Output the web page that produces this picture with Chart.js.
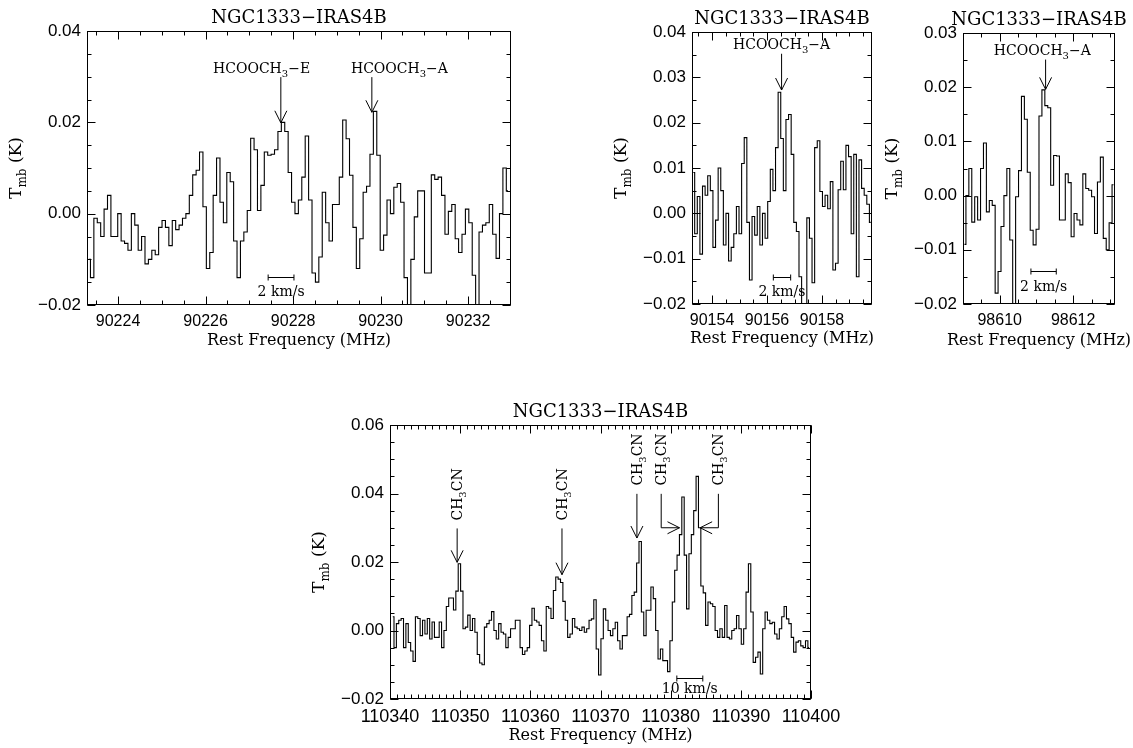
<!DOCTYPE html>
<html>
<head>
<meta charset="utf-8">
<title>NGC1333-IRAS4B spectra</title>
<script src="https://cdn.jsdelivr.net/npm/chart.js@4.4.1/dist/chart.umd.min.js"></script>
<style>
  html, body { margin: 0; padding: 0; background: #fff; }
  #page { position: relative; width: 1133px; height: 748px; overflow: hidden; background: #fff; }
  #page canvas { position: absolute; }
</style>
</head>
<body>
<div id="page">
  <canvas id="p1" width="540" height="360" style="left:0px;top:0px"></canvas>
  <canvas id="p2" width="285" height="360" style="left:600px;top:0px"></canvas>
  <canvas id="p3" width="248" height="360" style="left:885px;top:0px"></canvas>
  <canvas id="p4" width="560" height="358" style="left:300px;top:390px"></canvas>
</div>
<script>
// source name shown above every panel
const sourceName = 'NGC1333−IRAS4B';
const xAxisTitle = 'Rest Frequency (MHz)';
const yAxisTitle = 'T_{mb} (K)';

// HCOOCH3 E/A near 90.23 GHz: channel centres start at p1Start, spaced p1Step (MHz)
const p1Start = 90223.33;
const p1Step = 0.0779;
const p1Values = [
  -0.010, -0.014, -0.001, -0.002, -0.005, 0.001, 0.004, -0.005, -0.005, 0.000,
  -0.006, -0.0065, -0.008, 0.000, -0.0025, -0.008, -0.005, -0.011, -0.010, -0.008,
  -0.009, -0.003, -0.0015, -0.003, -0.007, -0.0015, -0.0035, -0.0025, -0.001, 0.000,
  0.004, 0.0085, 0.0095, 0.0135, 0.0015, -0.012, -0.0085, 0.004, 0.0122, 0.0025,
  -0.002, 0.009, 0.007, -0.006, -0.014, -0.006, -0.004, 0.0007, 0.0165, 0.014,
  0.0007, 0.0062, 0.0135, 0.0128, 0.013, 0.014, 0.018, 0.020, 0.018, 0.009,
  0.0025, 0.000, 0.003, 0.008, 0.017, 0.003, -0.013, -0.015, -0.0095, 0.0047,
  -0.002, -0.006, 0.002, 0.002, 0.008, 0.0205, 0.0164, 0.0084, -0.003, -0.012,
  -0.0055, 0.0047, 0.006, 0.013, 0.0224, 0.0128, -0.008, -0.0047, 0.003, 0.000,
  0.0058, 0.0066, 0.0025, -0.014, -0.025, -0.010, -0.0007, 0.005, 0.005, -0.013,
  -0.013, 0.0085, 0.0075, 0.008, 0.004, -0.0045, 0.0005, 0.002, -0.0055, -0.0085,
  -0.0045, 0.001, -0.002, -0.0135, -0.025, -0.004, -0.0025, -0.002, 0.002, -0.0045,
  -0.0098, 0.000, 0.010, 0.005
];

// HCOOCH3-A near 90.156 GHz
const p2Start = 90153.32;
const p2Step = 0.0949;
const p2Values = [
  0.009, -0.0045, 0.0037, -0.009, 0.006, 0.004, 0.0083, 0.005, -0.0075, -0.0015,
  0.010, 0.005, -0.007, 0.000, -0.0105, -0.0075, -0.0045, 0.0015, -0.0045, 0.011,
  0.0167, -0.002, -0.0147, -0.0007, -0.0048, 0.0015, -0.007, 0.000, -0.0055, 0.0026,
  0.0097, 0.005, 0.0145, 0.0267, 0.0165, 0.005, 0.0207, 0.0218, 0.013, -0.002,
  -0.004, -0.014, -0.025, -0.025, -0.001, -0.0055, -0.0153, 0.0145, 0.016, 0.0048,
  0.0015, 0.004, 0.001, 0.007, -0.0125, -0.011, 0.0052, 0.0115, 0.0052, 0.015,
  0.0125, -0.0045, 0.013, -0.014, 0.0118, 0.0055, 0.004, 0.002, -0.002
];

// HCOOCH3-A near 98.611 GHz
const p3Start = 98609.04;
const p3Step = 0.0796;
const p3Values = [
  -0.009, 0.000, 0.005, -0.0049, -0.0002, -0.0045, 0.005, 0.0097, -0.003, -0.0009,
  -0.0018, -0.018, -0.014, -0.0057, 0.000, 0.005, -0.0082, -0.020, -0.0002, 0.0046,
  0.0183, 0.0141, 0.0043, -0.0064, -0.0091, -0.0062, 0.0147, 0.0195, 0.0166, 0.0162,
  0.0019, 0.0074, 0.0073, -0.0045, -0.0045, 0.004, 0.0024, -0.0076, -0.0033, -0.0045,
  -0.0054, 0.004, 0.0013, 0.001, -0.0002, -0.007, 0.0025, 0.0071, -0.0079, -0.010,
  -0.005, 0.002
];

// CH3CN ladder near 110.38 GHz
const p4Start = 110340.4;
const p4Step = 0.339;
const p4Values = [
  0.004, -0.005, 0.002, 0.003, 0.0035, -0.005, 0.002, -0.0035, -0.006, -0.009,
  0.004, 0.0035, -0.0015, 0.003, -0.001, 0.0035, -0.0025, 0.0025, -0.002, -0.002,
  0.0025, -0.005, 0.000, 0.007, 0.0095, 0.0095, 0.006, 0.0115, 0.0195, 0.0115,
  0.0005, 0.001, 0.0045, 0.000, 0.0035, -0.0005, -0.007, -0.0095, -0.010, 0.001,
  0.002, 0.003, 0.0055, 0.000, -0.0025, 0.002, -0.0005, -0.001, -0.005, -0.002,
  0.0005, 0.0005, 0.003, 0.003, -0.005, -0.007, -0.006, -0.005, 0.0015, 0.0065,
  0.003, 0.0025, 0.0015, -0.003, -0.006, 0.007, 0.0065, 0.0035, 0.0117, 0.0156,
  0.015, 0.014, 0.0085, 0.003, -0.002, -0.001, 0.0035, 0.001, 0.0005, 0.000,
  0.001, -0.0005, 0.0005, 0.003, 0.0034, 0.009, -0.0054, -0.013, -0.0024, 0.0063,
  0.003, 0.000, -0.0015, 0.0005, 0.0024, -0.003, -0.0054, -0.0015, -0.0015, 0.004,
  0.0047, 0.0102, 0.0112, 0.0197, 0.026, 0.0054, -0.0015, 0.0059, 0.0059, 0.0127,
  0.0093, 0.000, -0.0083, -0.0054, -0.0088, -0.0088, -0.012, -0.003, 0.0083, 0.0176,
  0.022, 0.028, 0.039, 0.022, 0.0063, 0.0224, 0.028, 0.035, 0.045, 0.030,
  0.013, 0.011, 0.0015, 0.0083, 0.0078, 0.007, 0.000, -0.002, 0.0005, -0.002,
  0.0073, -0.002, -0.0025, 0.000, 0.0005, 0.0044, 0.0005, -0.004, 0.0005, 0.0112,
  0.0195, 0.0054, -0.0093, -0.0078, -0.0063, -0.0127, 0.0005, 0.0054, 0.003, 0.002,
  0.0024, -0.001, -0.0025, 0.0005, 0.004, 0.007, 0.0034, 0.002, -0.002, -0.0063,
  -0.0034, -0.003, -0.0045, -0.005, -0.003, -0.005
];

// line identifications (data coordinates: MHz, K)
const p1Labels = [
  { text: 'HCOOCH_{3}−E', x: 90227.28, y: 0.0309, lineX: 90227.72, from: 0.0299, to: 0.0199 },
  { text: 'HCOOCH_{3}−A', x: 90230.43, y: 0.0309, lineX: 90229.80, from: 0.0299, to: 0.0222 }
];
const p2Labels = [
  { text: 'HCOOCH_{3}−A', x: 90156.53, y: 0.0363, lineX: 90156.53, from: 0.0352, to: 0.0272 }
];
const p3Labels = [
  { text: 'HCOOCH_{3}−A', x: 98611.16, y: 0.0260, lineX: 98611.25, from: 0.0251, to: 0.0196 }
];
const p4Labels = [
  { text: 'CH_{3}CN', x: 110349.57, y: 0.0321, lineX: 110349.57, from: 0.0298, to: 0.0199 },
  { text: 'CH_{3}CN', x: 110364.51, y: 0.0321, lineX: 110364.51, from: 0.0298, to: 0.0163 },
  { text: 'CH_{3}CN', x: 110375.19, y: 0.0423, lineX: 110375.19, from: 0.0399, to: 0.0270 },
  { text: 'CH_{3}CN', x: 110378.65, y: 0.0423, lineX: 110378.65, from: 0.0399, to: 0.0300, tipX: 110381.26 },
  { text: 'CH_{3}CN', x: 110386.70, y: 0.0423, lineX: 110386.80, from: 0.0399, to: 0.0300, tipX: 110384.20 }
];

// velocity scale bars
const p1Bar = { from: 90227.43, to: 90228.02, y: -0.0139, text: '2 km/s' };
const p2Bar = { from: 90156.23, to: 90156.86, y: -0.0141, text: '2 km/s' };
const p3Bar = { from: 98610.85, to: 98611.54, y: -0.0140, text: '2 km/s' };
const p4Bar = { from: 110380.88, to: 110384.58, y: -0.0138, text: '10 km/s' };

Chart.defaults.color = '#000';

// text with _{..} subscripts, drawn left-to-right from x (or centred on x)
function drawRich(ctx, text, x, y, size, align) {
  const big = size + 'px "DejaVu Serif"';
  const small = Math.round(size * 0.68) + 'px "DejaVu Serif"';
  const items = text.split(/(_\{[^}]*\})/).filter(s => s.length).map(p => {
    const sub = p.startsWith('_{');
    const t = sub ? p.slice(2, -1) : p;
    ctx.font = sub ? small : big;
    return { t, sub, w: ctx.measureText(t).width };
  });
  const total = items.reduce((s, it) => s + it.w, 0);
  let cx = align === 'center' ? x - total / 2 : x;
  ctx.textAlign = 'left';
  ctx.textBaseline = 'alphabetic';
  items.forEach(it => {
    ctx.font = it.sub ? small : big;
    ctx.fillText(it.t, cx, it.sub ? y + size * 0.3 : y);
    cx += it.w;
  });
}

function line(ctx, x0, y0, x1, y1) {
  ctx.beginPath();
  ctx.moveTo(x0, y0);
  ctx.lineTo(x1, y1);
  ctx.stroke();
}

// frame, inward ticks on all four sides, titles, labels, arrows and scale bar
function decor(p) {
  return {
    id: 'decor',
    afterDraw(chart) {
      const { ctx, chartArea: a, scales: { x, y } } = chart;
      const L = Math.round(a.left) + 0.5, R = Math.round(a.right) - 0.5;
      const T = Math.round(a.top) + 0.5, B = Math.round(a.bottom) - 0.5;
      ctx.save();
      ctx.strokeStyle = '#000';
      ctx.fillStyle = '#000';
      ctx.lineWidth = 1;
      ctx.strokeRect(L, T, R - L, B - T);

      const xTicks = (step, len) => {
        for (let n = Math.ceil(x.min / step - 1e-9); n * step <= x.max + 1e-9; n++) {
          const px = Math.round(x.getPixelForValue(n * step)) + 0.5;
          line(ctx, px, B, px, B - len);
          line(ctx, px, T, px, T + len);
        }
      };
      const yTicks = (step, len) => {
        for (let n = Math.ceil(y.min / step - 1e-9); n * step <= y.max + 1e-9; n++) {
          const py = Math.round(y.getPixelForValue(n * step)) + 0.5;
          line(ctx, L, py, L + len, py);
          line(ctx, R, py, R - len, py);
        }
      };
      xTicks(p.xMinor, 4);
      xTicks(p.xStep, 8);
      yTicks(p.yMinor, 4);
      yTicks(p.yStep, 8);

      // title
      ctx.font = '18px "DejaVu Serif"';
      ctx.textAlign = 'center';
      ctx.textBaseline = 'alphabetic';
      ctx.fillText(sourceName, (a.left + a.right) / 2, a.top - 8);

      // x axis title (may run wider than the narrow panels)
      drawRich(ctx, xAxisTitle, (a.left + a.right) / 2, a.bottom + p.xTitleDy, 16, 'center');

      // y axis title, rotated
      ctx.save();
      ctx.translate(a.left - 66, (a.top + a.bottom) / 2);
      ctx.rotate(-Math.PI / 2);
      drawRich(ctx, yAxisTitle, 0, 0, 17, 'center');
      ctx.restore();

      // line identifications
      p.labels.forEach(lb => {
        const lx = x.getPixelForValue(lb.lineX);
        const top = y.getPixelForValue(lb.from);
        const tip = y.getPixelForValue(lb.to);
        if (p.vertical) {
          ctx.save();
          ctx.translate(x.getPixelForValue(lb.x) + 5, y.getPixelForValue(lb.y));
          ctx.rotate(-Math.PI / 2);
          drawRich(ctx, lb.text, 0, 0, 14, 'left');
          ctx.restore();
        } else {
          drawRich(ctx, lb.text, x.getPixelForValue(lb.x), y.getPixelForValue(lb.y), 14, 'center');
        }
        if (lb.tipX === undefined) {
          line(ctx, lx, top, lx, tip);
          line(ctx, lx, tip, lx - 6, tip - 12);
          line(ctx, lx, tip, lx + 6, tip - 12);
        } else {
          const tx = x.getPixelForValue(lb.tipX);
          const dir = Math.sign(tx - lx);
          ctx.beginPath();
          ctx.moveTo(lx, top);
          ctx.lineTo(lx, tip);
          ctx.lineTo(tx, tip);
          ctx.stroke();
          line(ctx, tx, tip, tx - dir * 12, tip - 6);
          line(ctx, tx, tip, tx - dir * 12, tip + 6);
        }
      });

      // velocity scale bar
      const b = p.bar;
      const bx0 = x.getPixelForValue(b.from), bx1 = x.getPixelForValue(b.to);
      const by = Math.round(y.getPixelForValue(b.y)) + 0.5;
      line(ctx, bx0, by, bx1, by);
      line(ctx, bx0, by - 3, bx0, by + 3);
      line(ctx, bx1, by - 3, bx1, by + 3);
      ctx.font = '14px "DejaVu Serif"';
      ctx.textAlign = 'center';
      ctx.fillText(b.text, (bx0 + bx1) / 2, by + p.barDy);
      ctx.restore();
    }
  };
}

function makeChart(p) {
  const points = p.values.map((v, i) => ({ x: p.start + i * p.step, y: v }));
  new Chart(document.getElementById(p.id), {
    type: 'line',
    data: {
      datasets: [{
        data: points,
        stepped: 'middle',
        borderColor: '#000',
        borderWidth: 1.1,
        pointRadius: 0,
        fill: false
      }]
    },
    options: {
      responsive: false,
      animation: false,
      devicePixelRatio: 1,
      events: [],
      layout: { padding: { top: p.padTop, right: p.padRight, left: 0, bottom: 0 } },
      plugins: {
        legend: { display: false },
        tooltip: { enabled: false },
        title: { display: false }
      },
      scales: {
        x: {
          type: 'linear',
          min: p.xMin,
          max: p.xMax,
          grid: { display: false, drawTicks: false },
          border: { display: false },
          ticks: {
            stepSize: p.xStep,
            includeBounds: false,
            autoSkip: false,
            maxRotation: 0,
            padding: 7,
            color: '#000',
            font: { family: 'Liberation Sans', size: p.xFont },
            callback: v => String(Math.round(v))
          },
          afterFit: s => { s.height = p.xAxisH; s.paddingLeft = 0; s.paddingRight = 0; }
        },
        y: {
          min: p.yMin,
          max: p.yMax,
          grid: { display: false, drawTicks: false },
          border: { display: false },
          ticks: {
            stepSize: p.yStep,
            padding: 6,
            color: '#000',
            font: { family: 'Liberation Sans', size: 17 },
            callback: v => Math.abs(v) < 1e-9 ? '0.00' : v.toFixed(2).replace('-', '−')
          },
          afterFit: s => { s.width = p.yAxisW; s.paddingTop = 0; s.paddingBottom = 0; }
        }
      }
    },
    plugins: [decor(p)]
  });
}

makeChart({
  id: 'p1', values: p1Values, start: p1Start, step: p1Step,
  xMin: 90223.29, xMax: 90232.98, xStep: 2, xMinor: 0.5,
  yMin: -0.02, yMax: 0.04, yStep: 0.02, yMinor: 0.005,
  padTop: 31, padRight: 29, yAxisW: 87, xAxisH: 55, xFont: 16, xTitleDy: 40,
  labels: p1Labels, bar: p1Bar, barDy: 18
});

makeChart({
  id: 'p2', values: p2Values, start: p2Start, step: p2Step,
  xMin: 90153.27, xMax: 90159.82, xStep: 2, xMinor: 0.5,
  yMin: -0.02, yMax: 0.04, yStep: 0.01, yMinor: 0.005,
  padTop: 32, padRight: 13, yAxisW: 92, xAxisH: 56, xFont: 16, xTitleDy: 39,
  labels: p2Labels, bar: p2Bar, barDy: 18
});

makeChart({
  id: 'p3', values: p3Values, start: p3Start, step: p3Step,
  xMin: 98609.0, xMax: 98613.14, xStep: 2, xMinor: 0.5,
  yMin: -0.02, yMax: 0.03, yStep: 0.01, yMinor: 0.005,
  padTop: 33, padRight: 18, yAxisW: 78, xAxisH: 56, xFont: 16, xTitleDy: 41,
  labels: p3Labels, bar: p3Bar, barDy: 19
});

makeChart({
  id: 'p4', values: p4Values, start: p4Start, step: p4Step,
  xMin: 110340, xMax: 110400, xStep: 10, xMinor: 1,
  yMin: -0.02, yMax: 0.06, yStep: 0.02, yMinor: 0.005,
  padTop: 35, padRight: 49, yAxisW: 90, xAxisH: 49, xFont: 18, xTitleDy: 41,
  labels: p4Labels, bar: p4Bar, barDy: 14, vertical: true
});
</script>
</body>
</html>
